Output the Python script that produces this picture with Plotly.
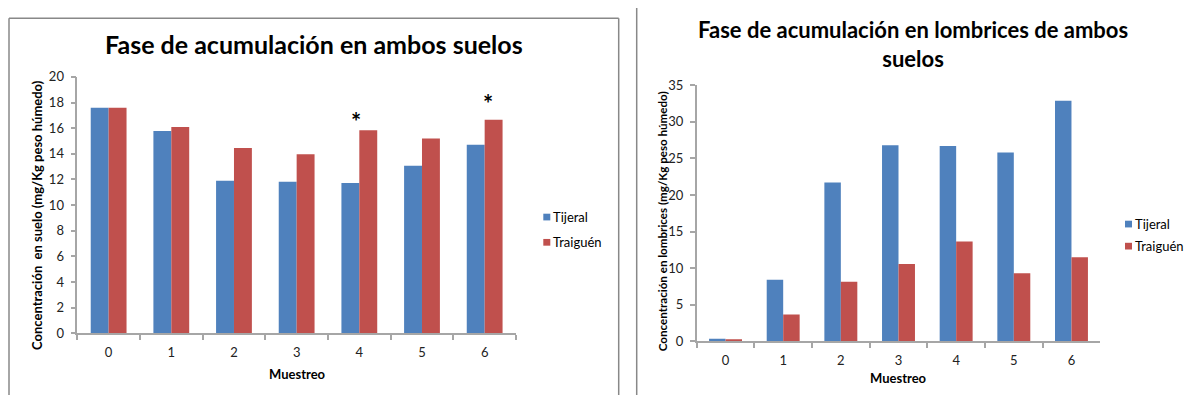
import plotly.graph_objects as go

# Sampling rounds (Muestreo)
muestreos = ["0", "1", "2", "3", "4", "5", "6"]
series_names = ["Tijeral", "Traiguén"]
series_colors = ["#4F81BD", "#C0504D"]

# Concentration in soil (mg/Kg wet weight)
suelo_tijeral = [17.6, 15.77, 11.9, 11.83, 11.73, 13.08, 14.7]
suelo_traiguen = [17.6, 16.09, 14.45, 13.97, 15.84, 15.19, 16.66]

# Concentration in earthworms (mg/Kg wet weight)
lomb_tijeral = [0.35, 8.4, 21.7, 26.8, 26.7, 25.8, 32.9]
lomb_traiguen = [0.22, 3.65, 8.13, 10.57, 13.63, 9.3, 11.49]

# Significance markers on the soil chart
sig_x = [3.95, 6.05]
sig_y = [16.5, 17.9]

W, H = 1184, 403
FONT = "Lato"


def px(x):
    return x / W


def py(y):
    return 1 - y / H


fig = go.Figure()

for name, color, vals in zip(series_names, series_colors, [suelo_tijeral, suelo_traiguen]):
    fig.add_trace(go.Bar(x=muestreos, y=vals, name=name, marker_color=color,
                         marker_line_width=0, xaxis="x", yaxis="y", showlegend=False))

for name, color, vals in zip(series_names, series_colors, [lomb_tijeral, lomb_traiguen]):
    fig.add_trace(go.Bar(x=muestreos, y=vals, name=name, marker_color=color,
                         marker_line_width=0, xaxis="x2", yaxis="y2", showlegend=False))

axis_color = "#A6A6A6"
tick_font = dict(family=FONT, size=13, color="#222222")

common_x = dict(type="category", showline=True, linecolor=axis_color, linewidth=1.5,
                ticks="outside", tickson="boundaries", ticklen=5, tickcolor=axis_color,
                tickwidth=1.5, showgrid=False, zeroline=False, tickfont=tick_font,
                ticklabelstandoff=6, fixedrange=True)
common_y = dict(showline=True, linecolor=axis_color, linewidth=1.5, ticks="outside",
                ticklen=5, tickcolor=axis_color, tickwidth=1.5, showgrid=False,
                zeroline=False, tickfont=tick_font, ticklabelstandoff=4, fixedrange=True)

fig.update_layout(
    width=W, height=H, autosize=False,
    margin=dict(l=0, r=0, t=0, b=0),
    paper_bgcolor="white", plot_bgcolor="white",
    barmode="group", bargap=0.4286, bargroupgap=0,
    font=dict(family=FONT, color="#000000"),
    xaxis=dict(domain=[px(77.3), px(516)], anchor="y", **common_x),
    yaxis=dict(domain=[py(338.9), py(71.7)], anchor="x", range=[0, 20], dtick=2, **common_y),
    xaxis2=dict(domain=[px(696.7), px(1100.3)], anchor="y2", **common_x),
    yaxis2=dict(domain=[py(347), py(80.5)], anchor="x2", range=[0, 35], dtick=5, **common_y),
)

annotations = []
# Chart titles
annotations.append(dict(text="<b>Fase de acumulación en ambos suelos</b>", x=px(314), y=py(38),
                        xref="paper", yref="paper", showarrow=False, xanchor="center",
                        yanchor="middle", font=dict(family=FONT, size=25, color="#000")))
annotations.append(dict(text="<b>Fase de acumulación en lombrices de ambos<br>suelos</b>",
                        x=px(913), y=py(37.5), xref="paper", yref="paper", showarrow=False,
                        xanchor="center", yanchor="middle",
                        font=dict(family=FONT, size=22, color="#000")))
# Axis titles
annotations.append(dict(text="<b>Concentración  en suelo (mg/Kg peso húmedo)</b>",
                        x=px(37), y=py(215.5), xref="paper", yref="paper", showarrow=False,
                        textangle=-90, xanchor="center", yanchor="middle",
                        font=dict(family=FONT, size=13, color="#000")))
annotations.append(dict(text="<b>Concentración en lombrices (mg/Kg peso húmedo)</b>",
                        x=px(662), y=py(222), xref="paper", yref="paper", showarrow=False,
                        textangle=-90, xanchor="center", yanchor="middle",
                        font=dict(family=FONT, size=11.6, color="#000")))
annotations.append(dict(text="<b>Muestreo</b>", x=px(297), y=py(381), xref="paper", yref="paper",
                        showarrow=False, xanchor="center", yanchor="middle",
                        font=dict(family=FONT, size=13, color="#000")))
annotations.append(dict(text="<b>Muestreo</b>", x=px(898.5), y=py(385), xref="paper", yref="paper",
                        showarrow=False, xanchor="center", yanchor="middle",
                        font=dict(family=FONT, size=13, color="#000")))
# Significance asterisks
for sx, sy in zip(sig_x, sig_y):
    annotations.append(dict(text="<b>*</b>", x=sx, y=sy, xref="x", yref="y", showarrow=False,
                            xanchor="center", yanchor="middle",
                            font=dict(family=FONT, size=24, color="#000")))

shapes = []
# Legends: one per chart, swatch + label
legend_pos = [(543.3, [217.7, 244.0]), (1125.0, [225.0, 248.0])]
for lx, ys in legend_pos:
    for name, color, ly in zip(series_names, series_colors, ys):
        shapes.append(dict(type="rect", xref="paper", yref="paper",
                           x0=px(lx), x1=px(lx + 7), y0=py(ly + 3.5), y1=py(ly - 3.5),
                           fillcolor=color, line=dict(width=0)))
        annotations.append(dict(text=name, x=px(lx + 8), y=py(ly), xref="paper", yref="paper",
                                showarrow=False, xanchor="left", yanchor="middle",
                                font=dict(family=FONT, size=13, color="#000")))

# Chart frames
frame = dict(color="#888888", width=1.5)
shapes.append(dict(type="line", xref="paper", yref="paper", x0=px(9), x1=px(9),
                   y0=py(10.7), y1=0, line=frame))
shapes.append(dict(type="line", xref="paper", yref="paper", x0=px(9), x1=px(618.7),
                   y0=py(10.7), y1=py(10.7), line=frame))
shapes.append(dict(type="line", xref="paper", yref="paper", x0=px(618.7), x1=px(618.7),
                   y0=py(10.7), y1=0, line=frame))
shapes.append(dict(type="line", xref="paper", yref="paper", x0=px(636.7), x1=px(636.7),
                   y0=1, y1=0, line=frame))

fig.update_layout(annotations=annotations, shapes=shapes)

fig.write_html("out.html")
